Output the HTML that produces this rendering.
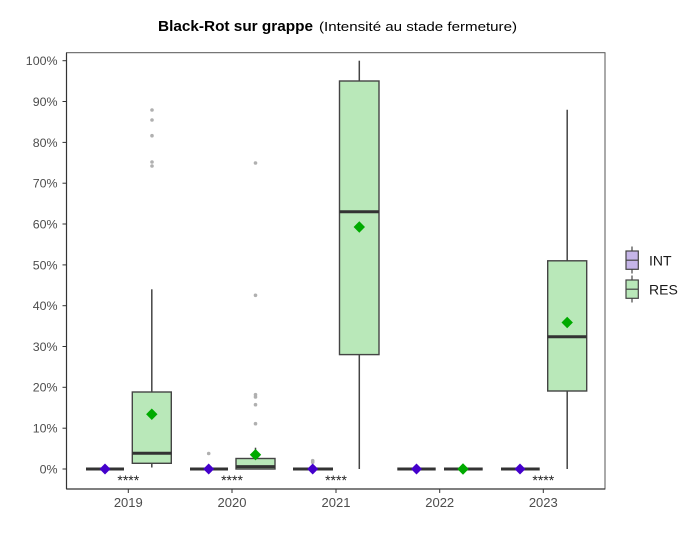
<!DOCTYPE html>
<html><head><meta charset="utf-8">
<style>
html,body{margin:0;padding:0;background:#fff;}
svg{display:block;}
</style></head>
<body>
<svg width="687" height="533" viewBox="0 0 687 533" xmlns="http://www.w3.org/2000/svg">
<rect x="0" y="0" width="687" height="533" fill="#fff"/>
<!-- title -->
<text x="158" y="31" font-family="'Liberation Sans', sans-serif" font-size="15" font-weight="bold" fill="#000" textLength="155" lengthAdjust="spacingAndGlyphs">Black-Rot sur grappe</text>
<text x="319" y="31" font-family="'Liberation Sans', sans-serif" font-size="13" fill="#000" textLength="198" lengthAdjust="spacingAndGlyphs">(Intensité au stade fermeture)</text>

<!-- panel -->
<rect x="66.5" y="52.7" width="538.5" height="436.3" fill="#fff" stroke="#555" stroke-width="1"/>
<line x1="66.5" y1="52.7" x2="66.5" y2="489" stroke="#333" stroke-width="1.2"/>
<line x1="66.5" y1="489" x2="605" y2="489" stroke="#333" stroke-width="1.2"/>

<!-- y ticks and labels -->
<g stroke="#333" stroke-width="1">
<line x1="62.5" y1="469" x2="66.5" y2="469"/>
<line x1="62.5" y1="428.2" x2="66.5" y2="428.2"/>
<line x1="62.5" y1="387.3" x2="66.5" y2="387.3"/>
<line x1="62.5" y1="346.5" x2="66.5" y2="346.5"/>
<line x1="62.5" y1="305.7" x2="66.5" y2="305.7"/>
<line x1="62.5" y1="264.9" x2="66.5" y2="264.9"/>
<line x1="62.5" y1="224" x2="66.5" y2="224"/>
<line x1="62.5" y1="183.2" x2="66.5" y2="183.2"/>
<line x1="62.5" y1="142.4" x2="66.5" y2="142.4"/>
<line x1="62.5" y1="101.5" x2="66.5" y2="101.5"/>
<line x1="62.5" y1="60.7" x2="66.5" y2="60.7"/>
</g>
<g font-family="'Liberation Sans', sans-serif" font-size="12.4" fill="#4d4d4d" text-anchor="end">
<text x="57.5" y="473.4">0%</text>
<text x="57.5" y="432.6">10%</text>
<text x="57.5" y="391.7">20%</text>
<text x="57.5" y="350.9">30%</text>
<text x="57.5" y="310.1">40%</text>
<text x="57.5" y="269.3">50%</text>
<text x="57.5" y="228.4">60%</text>
<text x="57.5" y="187.6">70%</text>
<text x="57.5" y="146.8">80%</text>
<text x="57.5" y="105.9">90%</text>
<text x="57.5" y="65.1">100%</text>
</g>

<!-- x ticks and labels -->
<g stroke="#333" stroke-width="1">
<line x1="128.3" y1="489" x2="128.3" y2="493"/>
<line x1="232" y1="489" x2="232" y2="493"/>
<line x1="336" y1="489" x2="336" y2="493"/>
<line x1="439.7" y1="489" x2="439.7" y2="493"/>
<line x1="543.3" y1="489" x2="543.3" y2="493"/>
</g>
<g font-family="'Liberation Sans', sans-serif" font-size="13" fill="#4d4d4d" text-anchor="middle">
<text x="128.3" y="507">2019</text>
<text x="232" y="507">2020</text>
<text x="336" y="507">2021</text>
<text x="439.7" y="507">2022</text>
<text x="543.3" y="507">2023</text>
</g>

<!-- outliers -->
<g fill="#b0b0b0">
<circle cx="152" cy="110" r="1.8"/>
<circle cx="152" cy="120" r="1.8"/>
<circle cx="152" cy="135.7" r="1.8"/>
<circle cx="152" cy="162" r="1.8"/>
<circle cx="152" cy="166" r="1.8"/>
<circle cx="208.7" cy="453.5" r="1.8"/>
<circle cx="255.5" cy="163" r="1.8"/>
<circle cx="255.5" cy="295.3" r="1.8"/>
<circle cx="255.5" cy="394.7" r="1.8"/>
<circle cx="255.5" cy="397" r="1.8"/>
<circle cx="255.5" cy="404.7" r="1.8"/>
<circle cx="255.5" cy="423.7" r="1.8"/>
<circle cx="312.7" cy="460.7" r="1.8"/>
<circle cx="312.7" cy="462.2" r="1.8"/>
</g>

<!-- whiskers -->
<g stroke="#444" stroke-width="1.5">
<line x1="151.8" y1="289.3" x2="151.8" y2="392"/>
<line x1="151.8" y1="463.3" x2="151.8" y2="467.5"/>
<line x1="255.5" y1="447.7" x2="255.5" y2="458.5"/>
<line x1="359.3" y1="60.7" x2="359.3" y2="81"/>
<line x1="359.3" y1="354.6" x2="359.3" y2="469"/>
<line x1="567.2" y1="109.7" x2="567.2" y2="260.8"/>
<line x1="567.2" y1="391" x2="567.2" y2="469"/>
</g>

<!-- RES boxes -->
<g fill="#b9e8b9" stroke="#444" stroke-width="1.4">
<rect x="132.3" y="392" width="39" height="71.3"/>
<rect x="236" y="458.5" width="39" height="10.5"/>
<rect x="339.5" y="81" width="39.5" height="273.6"/>
<rect x="547.7" y="260.8" width="39" height="130.2"/>
</g>
<!-- medians -->
<g stroke="#333" stroke-width="3">
<line x1="132.3" y1="453.3" x2="171.3" y2="453.3"/>
<line x1="236" y1="466.6" x2="275" y2="466.6"/>
<line x1="339.5" y1="211.7" x2="379" y2="211.7"/>
<line x1="547.7" y1="336.8" x2="586.7" y2="336.8"/>
<!-- flat boxes -->
<line x1="86" y1="469" x2="124" y2="469"/>
<line x1="190" y1="469" x2="228" y2="469"/>
<line x1="293" y1="469" x2="333" y2="469"/>
<line x1="397.3" y1="469" x2="435.7" y2="469"/>
<line x1="444" y1="469" x2="482.7" y2="469"/>
<line x1="501" y1="469" x2="539.7" y2="469"/>
</g>

<!-- mean diamonds -->
<g fill="#4400cc">
<polygon points="105,463.5 110.5,469 105,474.5 99.5,469"/>
<polygon points="208.7,463.5 214.2,469 208.7,474.5 203.2,469"/>
<polygon points="312.7,463.5 318.2,469 312.7,474.5 307.2,469"/>
<polygon points="416.5,463.5 422,469 416.5,474.5 411,469"/>
<polygon points="520,463.5 525.5,469 520,474.5 514.5,469"/>
</g>
<g fill="#00aa00">
<polygon points="151.8,408.5 157.5,414.3 151.8,420 146.1,414.3"/>
<polygon points="255.5,449 261.2,454.7 255.5,460.4 249.8,454.7"/>
<polygon points="359.3,221.3 365,227 359.3,232.7 353.6,227"/>
<polygon points="463,463.3 468.7,469 463,474.7 457.3,469"/>
<polygon points="567.2,316.8 572.9,322.5 567.2,328.2 561.5,322.5"/>
</g>

<!-- significance stars -->
<g font-family="'Liberation Sans', sans-serif" font-size="14" fill="#222" text-anchor="middle">
<text x="128.3" y="485">****</text>
<text x="232" y="485">****</text>
<text x="336" y="485">****</text>
<text x="543.3" y="485">****</text>
</g>

<!-- legend -->
<g stroke="#444" stroke-width="1.2">
<line x1="632" y1="246.5" x2="632" y2="251"/>
<line x1="632" y1="269.3" x2="632" y2="273.5"/>
<rect x="626" y="251" width="12.3" height="18.3" fill="#c5b5e8"/>
<line x1="626" y1="260.2" x2="638.3" y2="260.2"/>
<line x1="632" y1="275.5" x2="632" y2="280"/>
<line x1="632" y1="298.3" x2="632" y2="302.5"/>
<rect x="626" y="280" width="12.3" height="18.3" fill="#b9e8b9"/>
<line x1="626" y1="289.2" x2="638.3" y2="289.2"/>
</g>
<g font-family="'Liberation Sans', sans-serif" font-size="14" fill="#1a1a1a">
<text x="649" y="265.5">INT</text>
<text x="649" y="294.5">RES</text>
</g>
</svg>
</body></html>
